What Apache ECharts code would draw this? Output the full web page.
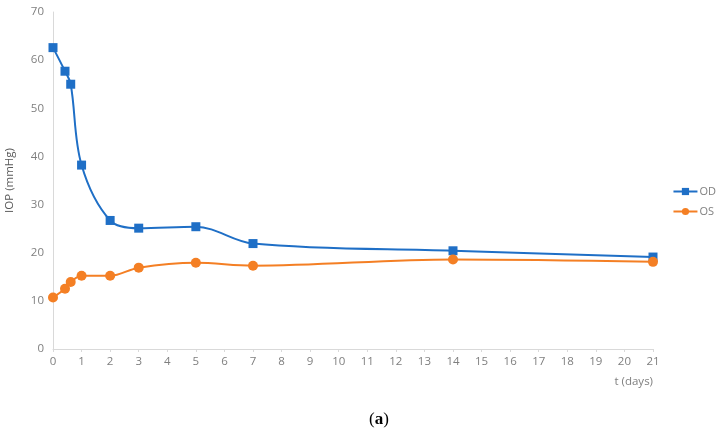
<!DOCTYPE html>
<html>
<head>
<meta charset="utf-8">
<script src="https://cdn.jsdelivr.net/npm/echarts@6/dist/echarts.min.js"></script>
<style>html,body{margin:0;padding:0;background:#fff}#c{width:723px;height:439px}</style>
</head>
<body>
<div id="c"></div>
<script>
const days = [0, 0.42, 0.62, 1, 2, 3, 5, 7, 14, 21];
const odValues = [62.6, 57.7, 55.0, 38.2, 26.7, 25.1, 25.4, 21.9, 20.4, 19.1];
const osValues = [10.7, 12.5, 13.9, 15.2, 15.2, 16.9, 17.9, 17.3, 18.6, 18.1];
const seriesNames = ['OD', 'OS'];
const xAxisTitle = 't (days)';
const yAxisTitle = 'IOP (mmHg)';

const pair = (xs, ys) => xs.map((x, i) => [x, ys[i]]);
const labelColor = '#7f7f7f';
const fontFam = '"Open Sans", "Noto Sans", sans-serif';

const chart = echarts.init(document.getElementById('c'));
chart.setOption({
  animation: false,
  grid: { left: 53, right: 70, top: 12, bottom: 90, containLabel: false, outerBoundsMode: 'none' },
  legend: {
    orient: 'vertical', right: 2, top: 181, itemGap: 9,
    itemWidth: 24, itemHeight: 9,
    textStyle: { color: labelColor, fontSize: 11, fontFamily: fontFam, padding: [0, 0, 0, -3] },
    data: seriesNames
  },
  xAxis: {
    type: 'value', min: 0, max: 21, interval: 1,
    axisLine: { show: true, lineStyle: { color: '#d9d9d9', width: 1 } },
    axisTick: { show: true, length: 3, lineStyle: { color: '#d9d9d9' } },
    axisLabel: { color: labelColor, fontSize: 11.5, fontFamily: fontFam, margin: 7 },
    splitLine: { show: false }
  },
  yAxis: {
    type: 'value', min: 0, max: 70, interval: 10,
    name: yAxisTitle, nameLocation: 'middle', nameGap: 37, nameRotate: 90,
    nameTextStyle: { color: '#595959', fontSize: 11.5, fontFamily: fontFam },
    axisLine: { show: true, lineStyle: { color: '#d9d9d9', width: 1 } },
    axisTick: { show: false },
    axisLabel: { color: labelColor, fontSize: 11.5, fontFamily: fontFam, margin: 9 },
    splitLine: { show: false }
  },
  graphic: [
    { type: 'text', right: 70, top: 376, style: { text: xAxisTitle, fill: labelColor, fontSize: 11.5, fontFamily: fontFam } },
    { type: 'text', left: 369, top: 411, style: {
        text: '({b|a})', fill: '#000', fontSize: 17, fontFamily: '"Liberation Serif", serif',
        rich: { b: { fontWeight: 'bold', fontSize: 17, fontFamily: '"Liberation Serif", serif', fill: '#000' } }
      } }
  ],
  series: [
    {
      name: seriesNames[0], type: 'line', smooth: 0.35,
      data: pair(days, odValues),
      symbol: 'rect', symbolSize: 9,
      itemStyle: { color: '#1f6fc6' },
      lineStyle: { color: '#1f6fc6', width: 2 }
    },
    {
      name: seriesNames[1], type: 'line', smooth: 0.35,
      data: pair(days, osValues),
      symbol: 'circle', symbolSize: 10,
      itemStyle: { color: '#f47f24' },
      lineStyle: { color: '#f47f24', width: 2 }
    }
  ]
});
</script>
</body>
</html>
